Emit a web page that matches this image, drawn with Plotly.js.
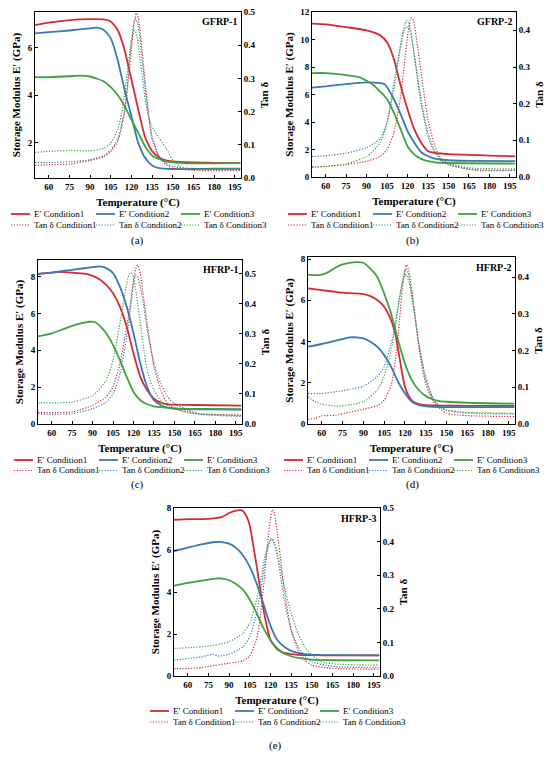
<!DOCTYPE html>
<html><head><meta charset="utf-8">
<script src="https://cdn.plot.ly/plotly-3.0.1.min.js"></script>
<style>html,body{margin:0;padding:0;background:#fff}#chart{width:550px;height:758px}</style>
</head><body><div id="chart"></div>
<script>
// ---------- DATA ----------
const xTicks = [60,75,90,105,120,135,150,165,180,195];
const panelNames = ['GFRP-1','GFRP-2','HFRP-1','HFRP-2','HFRP-3'];
const panelLabels = ['(a)','(b)','(c)','(d)','(e)'];
const seriesNames = ['E′ Condition1','E′ Condition2','E′ Condition3','Tan δ Condition1','Tan δ Condition2','Tan δ Condition3'];

// (a) GFRP-1
const a_E1_T = [50,60,75,90,100,105,110,115,120,125,130,135,140,145,150,165,180,199];
const a_E1   = [6.95,7.05,7.16,7.2,7.19,7.1,6.74,5.9,4.64,3.38,2.2,1.63,1.38,1.24,1.2,1.16,1.14,1.13];
const a_E2_T = [50,60,75,90,95,100,105,110,115,120,125,130,135,140,150,165,180,199];
const a_E2   = [6.6,6.65,6.72,6.81,6.84,6.74,6.39,5.48,4.22,3.1,1.97,1.34,1.03,0.92,0.88,0.88,0.89,0.89];
const a_E3_T = [50,60,75,82,90,100,105,110,115,120,125,130,135,140,145,150,160,180,199];
const a_E3   = [4.75,4.75,4.79,4.82,4.78,4.57,4.33,4.0,3.54,2.95,2.39,1.83,1.45,1.3,1.2,1.16,1.12,1.12,1.13];
const a_T1_T = [50,60,75,90,100,105,110,115,118,120,122,123.5,125,127,130,133,135,140,145,150,165,199];
const a_T1   = [0.038,0.04,0.042,0.053,0.065,0.08,0.11,0.196,0.306,0.387,0.467,0.497,0.482,0.417,0.286,0.176,0.125,0.065,0.04,0.03,0.023,0.022];
const a_T2_T = [50,60,75,90,100,105,110,115,118,120,122,123,125,127,130,133,135,140,145,150,165,199];
const a_T2   = [0.047,0.047,0.049,0.055,0.067,0.085,0.115,0.206,0.326,0.417,0.472,0.479,0.457,0.387,0.266,0.166,0.115,0.065,0.045,0.035,0.027,0.025];
const a_T3_T = [50,60,75,90,100,105,110,113,116,119,121,122.5,124,126,128,130,133,136,140,145,150,155,160,199];
const a_T3   = [0.077,0.08,0.083,0.082,0.09,0.105,0.146,0.196,0.286,0.387,0.437,0.445,0.427,0.366,0.296,0.236,0.176,0.146,0.12,0.09,0.055,0.035,0.03,0.028];

// (b) GFRP-2
const b_E1_T = [50,60,75,90,100,105,110,115,120,125,130,135,140,145,150,165,180,199];
const b_E1   = [11.15,11.1,10.9,10.66,10.3,9.8,8.59,6.63,4.93,3.46,2.49,1.88,1.76,1.71,1.66,1.61,1.56,1.5];
const b_E2_T = [50,60,75,90,100,103,106,110,115,120,125,130,135,140,150,165,199];
const b_E2   = [6.5,6.59,6.76,6.88,6.83,6.76,6.39,5.66,4.56,3.34,2.49,1.8,1.51,1.34,1.22,1.17,1.15];
const b_E3_T = [50,60,75,85,90,95,100,105,110,115,120,125,130,135,140,150,199];
const b_E3   = [7.56,7.56,7.41,7.24,7.0,6.68,6.2,5.66,4.68,3.46,2.24,1.63,1.32,1.15,1.07,1.02,0.98];
const b_T1_T = [50,60,75,90,100,105,110,115,118,120,122,123,124.5,127,130,135,140,145,150,160,170,199];
const b_T1   = [0.027,0.029,0.034,0.043,0.056,0.075,0.12,0.22,0.32,0.384,0.427,0.434,0.425,0.365,0.284,0.156,0.084,0.047,0.034,0.025,0.018,0.018];
const b_T2_T = [50,60,75,90,100,105,110,113,116,118,119.5,121,123,126,130,135,140,145,150,160,170,199];
const b_T2   = [0.056,0.058,0.065,0.08,0.105,0.15,0.256,0.32,0.384,0.415,0.427,0.42,0.384,0.302,0.2,0.111,0.065,0.043,0.034,0.025,0.02,0.018];
const b_T3_T = [50,60,75,90,100,105,110,113,116,118,120,122,124,127,130,135,140,145,150,165,199];
const b_T3   = [0.027,0.029,0.036,0.056,0.093,0.147,0.238,0.311,0.375,0.402,0.411,0.397,0.356,0.284,0.211,0.12,0.07,0.049,0.038,0.025,0.022];

// (c) HFRP-1
const c_E1_T = [50,60,65,75,85,90,95,100,105,110,115,120,125,130,135,140,145,150,165,199];
const c_E1   = [8.15,8.22,8.26,8.22,8.15,8.04,7.86,7.55,7.1,6.37,5.28,3.83,2.56,1.83,1.38,1.16,1.07,1.05,1.03,1.0];
const c_E2_T = [50,60,75,90,95,100,105,110,115,120,125,130,135,140,145,150,165,199];
const c_E2   = [8.15,8.22,8.37,8.51,8.55,8.46,8.19,7.46,6.37,4.92,3.28,2.01,1.29,1.02,0.89,0.83,0.8,0.78];
const c_E3_T = [50,60,70,80,88,92,97,100,105,110,115,120,125,130,135,140,150,165,199];
const c_E3   = [4.75,4.92,5.19,5.43,5.55,5.52,5.19,4.92,4.28,3.47,2.56,1.74,1.29,1.07,0.96,0.91,0.85,0.82,0.8];
const c_T1_T = [50,60,75,90,100,105,110,115,118,120,122,123,125,127,130,133,135,140,145,150,160,170,199];
const c_T1   = [0.038,0.038,0.04,0.062,0.09,0.123,0.2,0.323,0.411,0.478,0.522,0.528,0.5,0.433,0.334,0.245,0.19,0.112,0.068,0.051,0.04,0.034,0.029];
const c_T2_T = [50,60,75,90,100,105,110,115,118,120,121.5,123,125,128,130,135,140,145,150,160,170,199];
const c_T2   = [0.034,0.032,0.034,0.051,0.073,0.1,0.167,0.289,0.389,0.467,0.494,0.489,0.456,0.378,0.311,0.2,0.134,0.09,0.068,0.045,0.032,0.025];
const c_T3_T = [50,60,75,90,100,105,110,113,115,117,118.5,120,122,125,128,130,135,140,145,150,160,170,199];
const c_T3   = [0.07,0.07,0.073,0.095,0.145,0.212,0.334,0.411,0.467,0.5,0.502,0.489,0.433,0.334,0.234,0.178,0.112,0.079,0.059,0.051,0.037,0.032,0.029];

// (d) HFRP-2
const d_E1_T = [50,60,70,75,90,95,100,105,110,113,116,118,120,123,126,130,135,140,150,165,199];
const d_E1   = [6.58,6.49,6.41,6.37,6.3,6.2,6.01,5.69,5.04,4.39,3.26,2.46,1.81,1.32,1.08,0.97,0.92,0.9,0.89,0.88,0.88];
const d_E2_T = [50,60,70,80,85,90,95,100,105,110,115,120,125,130,135,140,150,199];
const d_E2   = [3.75,3.88,4.04,4.2,4.2,4.15,3.99,3.75,3.34,2.78,2.05,1.49,1.08,0.92,0.86,0.83,0.82,0.82];
const d_E3_T = [50,55,60,65,70,75,80,85,90,95,100,105,110,115,120,125,130,135,140,145,150,165,199];
const d_E3   = [7.25,7.22,7.25,7.38,7.59,7.74,7.82,7.85,7.82,7.54,7.14,6.33,5.36,4.07,2.94,2.13,1.65,1.36,1.2,1.11,1.08,1.03,0.99];
const d_T1_T = [50,55,60,70,80,90,100,105,110,113,116,118,120,121,122.5,125,128,130,135,140,145,150,160,170,199];
const d_T1   = [0.013,0.015,0.022,0.024,0.032,0.04,0.05,0.065,0.105,0.17,0.28,0.364,0.418,0.434,0.423,0.364,0.273,0.21,0.11,0.065,0.043,0.029,0.024,0.022,0.02];
const d_T2_T = [50,60,70,80,90,100,105,110,113,116,118,120,121,123,125,128,130,135,140,145,150,160,170,199];
const d_T2   = [0.083,0.083,0.088,0.094,0.103,0.129,0.156,0.219,0.273,0.346,0.382,0.405,0.407,0.386,0.346,0.273,0.219,0.129,0.074,0.047,0.038,0.031,0.029,0.027];
const d_T3_T = [50,55,60,70,80,90,100,105,110,113,116,118,120,121,122.5,125,128,130,135,140,145,150,160,170,199];
const d_T3   = [0.074,0.061,0.054,0.049,0.052,0.061,0.092,0.129,0.2,0.264,0.337,0.382,0.416,0.423,0.409,0.355,0.273,0.219,0.119,0.07,0.047,0.038,0.033,0.031,0.029];

// (e) HFRP-3
const e_E1_T = [50,60,70,80,85,90,95,98,100,103,105,108,110,113,115,118,120,125,130,135,140,150,165,199];
const e_E1   = [7.44,7.47,7.47,7.52,7.58,7.76,7.87,7.9,7.86,7.55,7.15,6.03,5.23,3.95,3.15,2.19,1.71,1.26,1.1,1.04,1.01,0.99,0.98,0.98];
const e_E2_T = [50,60,70,80,85,90,95,100,105,110,115,120,125,130,135,140,145,150,165,199];
const e_E2   = [5.95,6.11,6.27,6.38,6.38,6.3,6.1,5.75,5.2,4.4,3.4,2.4,1.71,1.39,1.2,1.1,1.04,1.01,0.99,0.98];
const e_E3_T = [50,60,70,80,85,90,95,100,105,110,115,120,125,130,135,140,150,165,199];
const e_E3   = [4.3,4.43,4.54,4.64,4.64,4.56,4.38,4.11,3.63,2.99,2.27,1.71,1.31,1.07,0.94,0.86,0.78,0.75,0.74];
const e_T1_T = [50,60,70,80,90,100,105,110,113,116,118,120,121.5,123,125,128,130,135,140,145,150,160,170,199];
const e_T1   = [0.022,0.022,0.025,0.032,0.038,0.045,0.06,0.11,0.19,0.31,0.4,0.467,0.495,0.482,0.427,0.327,0.257,0.137,0.077,0.047,0.032,0.025,0.022,0.02];
const e_T2_T = [50,60,70,75,78,82,90,100,105,110,113,116,118,120,121,123,125,128,130,135,140,145,150,160,170,199];
const e_T2   = [0.047,0.052,0.057,0.062,0.065,0.059,0.065,0.087,0.117,0.187,0.257,0.337,0.377,0.402,0.407,0.392,0.357,0.277,0.227,0.137,0.087,0.057,0.042,0.032,0.027,0.025];
const e_T3_T = [50,60,70,80,90,100,105,110,113,116,118,120,121,123,125,128,130,135,140,145,150,155,160,170,199];
const e_T3   = [0.082,0.084,0.087,0.092,0.102,0.127,0.157,0.227,0.287,0.357,0.387,0.407,0.409,0.397,0.367,0.307,0.267,0.187,0.127,0.087,0.062,0.047,0.039,0.035,0.032];

// ---------- LAYOUT CONFIG ----------
const W = 550, H = 758;
const colors = ['#d62a32', '#3b78b4', '#3ea33e'];
const FONT = 'Liberation Serif, Times New Roman, serif';
const DOT = '1.2px,1.6px';

const panels = [
  {px:[35,241],  py:[12,178],  yL:[0.5,7.5], yR:[0,0.5],   dR:0.1, lab:[137,240], leg:[214,225],
   series:[[a_E1_T,a_E1],[a_E2_T,a_E2],[a_E3_T,a_E3],[a_T1_T,a_T1],[a_T2_T,a_T2],[a_T3_T,a_T3]]},
  {px:[312,516], py:[12,177],  yL:[0,12],    yR:[0,0.45],  dR:0.1, lab:[412,240], leg:[214,225],
   series:[[b_E1_T,b_E1],[b_E2_T,b_E2],[b_E3_T,b_E3],[b_T1_T,b_T1],[b_T2_T,b_T2],[b_T3_T,b_T3]]},
  {px:[38,242],  py:[260,424], yL:[0,8.9],   yR:[0,0.545], dR:0.1, lab:[137,484], leg:[460,470.5],
   series:[[c_E1_T,c_E1],[c_E2_T,c_E2],[c_E3_T,c_E3],[c_T1_T,c_T1],[c_T2_T,c_T2],[c_T3_T,c_T3]]},
  {px:[308,515], py:[257,424], yL:[0,8.1],   yR:[0,0.455], dR:0.1, lab:[412,484], leg:[460,470.5],
   series:[[d_E1_T,d_E1],[d_E2_T,d_E2],[d_E3_T,d_E3],[d_T1_T,d_T1],[d_T2_T,d_T2],[d_T3_T,d_T3]]},
  {px:[174,380], py:[508,676], yL:[0,8],     yR:[0,0.5],   dR:0.1, lab:[275,745], leg:[711,722],
   series:[[e_E1_T,e_E1],[e_E2_T,e_E2],[e_E3_T,e_E3],[e_T1_T,e_T1],[e_T2_T,e_T2],[e_T3_T,e_T3]]}
];

const px2x = p => p / W;
const py2y = p => 1 - p / H;

const traces = [];
const layout = {
  width: W, height: H,
  margin: {l:0, r:0, t:0, b:0},
  paper_bgcolor: '#fff', plot_bgcolor: 'rgba(0,0,0,0)',
  showlegend: false,
  font: {family: FONT, color: '#000'},
  annotations: [], shapes: []
};

const tickFont = {family: FONT, size: 9, color: '#000', weight: 'bold'};
const titleFont = {family: FONT, size: 11, color: '#000', weight: 'bold'};

panels.forEach((p, i) => {
  const k = i + 1;
  const xName = k === 1 ? 'x' : 'x' + k;
  const yLName = k === 1 ? 'y' : 'y' + (2*k - 1);
  const yRName = 'y' + (2*k);
  const xKey = k === 1 ? 'xaxis' : 'xaxis' + k;
  const yLKey = k === 1 ? 'yaxis' : 'yaxis' + (2*k - 1);
  const yRKey = 'yaxis' + (2*k);
  const xDom = [px2x(p.px[0]), px2x(p.px[1])];
  const yDom = [py2y(p.py[1]), py2y(p.py[0])];

  layout[xKey] = {
    domain: xDom, anchor: yLName, range: [50, 199.5],
    tickvals: xTicks, ticks: 'inside', ticklen: 3, tickcolor: '#000',
    showline: true, linecolor: '#000', linewidth: 1, mirror: true,
    showgrid: false, zeroline: false, tickfont: tickFont,
    title: {text: 'Temperature (°C)', font: titleFont, standoff: 7},
    automargin: false
  };
  layout[yLKey] = {
    domain: yDom, anchor: xName, range: p.yL, dtick: 2, tick0: 0,
    ticks: 'inside', ticklen: 3, tickcolor: '#000',
    showline: true, linecolor: '#000', linewidth: 1,
    showgrid: false, zeroline: false, tickfont: tickFont,
    title: {text: 'Storage Modulus E′ (GPa)', font: titleFont, standoff: 4},
    automargin: false
  };
  layout[yRKey] = {
    domain: yDom, anchor: xName, overlaying: yLName, side: 'right',
    range: p.yR, dtick: p.dR, tick0: 0, tickformat: '.1f',
    ticks: 'inside', ticklen: 3, tickcolor: '#000',
    showline: true, linecolor: '#000', linewidth: 1,
    showgrid: false, zeroline: false, tickfont: tickFont,
    title: {text: 'Tan δ', font: titleFont, standoff: 5},
    automargin: false
  };

  p.series.forEach((s, j) => {
    const isTan = j >= 3;
    traces.push({
      type: 'scatter', mode: 'lines',
      x: s[0], y: s[1], name: seriesNames[j],
      xaxis: xName, yaxis: isTan ? yRName : yLName,
      line: {color: colors[j % 3], width: isTan ? 1.2 : 1.8, dash: isTan ? DOT : 'solid', shape: 'spline', smoothing: 0.55},
      hoverinfo: 'skip'
    });
  });

  // panel name
  layout.annotations.push({
    xref: xName + ' domain', yref: yLName + ' domain', x: 0.995, y: 0.985,
    xanchor: 'right', yanchor: 'top', showarrow: false,
    text: '<b>' + panelNames[i] + '</b>', font: {family: FONT, size: 10, color: '#000'}
  });
  // sub-figure label
  layout.annotations.push({
    xref: 'paper', yref: 'paper', x: px2x(p.lab[0]), y: py2y(p.lab[1]),
    xanchor: 'center', yanchor: 'middle', showarrow: false,
    text: panelLabels[i], font: {family: FONT, size: 11, color: '#000'}
  });
  // legend (3 columns, 2 rows)
  const colX = [p.px[0] - 3, p.px[0] + 82, p.px[0] + 167];
  for (let j = 0; j < 6; j++) {
    const row = j < 3 ? 0 : 1;
    const tx = colX[j % 3];
    const ty = p.leg[row];
    layout.shapes.push({
      type: 'line', xref: 'paper', yref: 'paper',
      x0: px2x(tx - 21), x1: px2x(tx - 2), y0: py2y(ty), y1: py2y(ty),
      line: {color: colors[j % 3], width: row ? 1.1 : 1.8, dash: row ? DOT : 'solid'}
    });
    layout.annotations.push({
      xref: 'paper', yref: 'paper', x: px2x(tx), y: py2y(ty),
      xanchor: 'left', yanchor: 'middle', showarrow: false,
      text: seriesNames[j], font: {family: FONT, size: 9, color: '#000'}
    });
  }
});

Plotly.newPlot('chart', traces, layout, {staticPlot: true, displayModeBar: false});
</script></body></html>
